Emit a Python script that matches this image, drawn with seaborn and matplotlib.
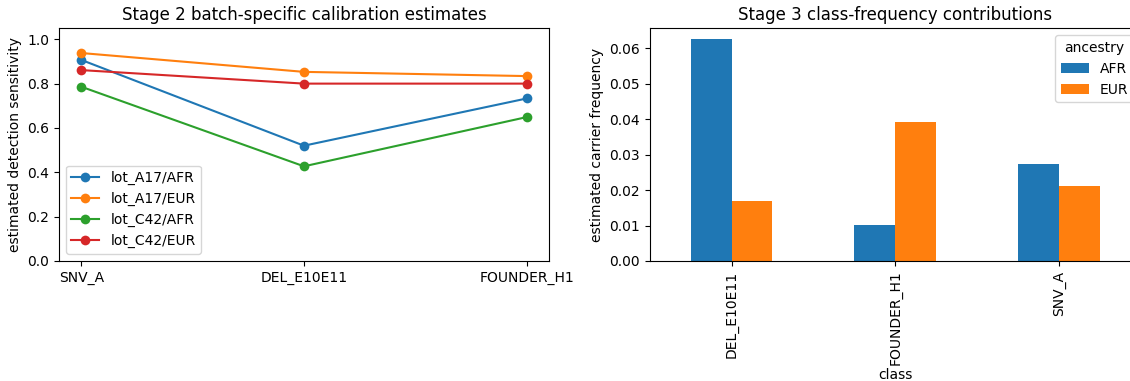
import matplotlib
matplotlib.use("Agg")
import matplotlib.pyplot as plt
import seaborn as sns
import pandas as pd

# ---- data ----
variant_classes = ["SNV_A", "DEL_E10E11", "FOUNDER_H1"]
lot_labels = ["lot_A17/AFR", "lot_A17/EUR", "lot_C42/AFR", "lot_C42/EUR"]
sens_A17_AFR = [0.907, 0.520, 0.733]
sens_A17_EUR = [0.938, 0.853, 0.834]
sens_C42_AFR = [0.786, 0.427, 0.649]
sens_C42_EUR = [0.861, 0.800, 0.800]

bar_classes = ["DEL_E10E11", "FOUNDER_H1", "SNV_A"]
ancestries = ["AFR", "EUR"]
freq_AFR = [0.0626, 0.0102, 0.0275]
freq_EUR = [0.0170, 0.0391, 0.0213]

palette = ["#1f77b4", "#ff7f0e", "#2ca02c", "#d62728"]

sens_series = [sens_A17_AFR, sens_A17_EUR, sens_C42_AFR, sens_C42_EUR]
line_df = pd.DataFrame(
    [(c, lab, v) for lab, vals in zip(lot_labels, sens_series) for c, v in zip(variant_classes, vals)],
    columns=["class", "lot", "sensitivity"],
)
bar_df = pd.DataFrame(
    [(c, a, v) for a, vals in zip(ancestries, [freq_AFR, freq_EUR]) for c, v in zip(bar_classes, vals)],
    columns=["class", "ancestry", "freq"],
)

fig = plt.figure(figsize=(11.3, 3.81), dpi=100)
ax1 = fig.add_axes([0.0522, 0.315, 0.4336, 0.611])
ax2 = fig.add_axes([0.575, 0.315, 0.4344, 0.611])

# ---- left: line plot ----
sns.lineplot(data=line_df, x="class", y="sensitivity", hue="lot", hue_order=lot_labels,
             palette=palette, marker="o", markersize=7, markeredgewidth=0,
             sort=False, ax=ax1, lw=1.5)
ax1.set_ylim(0, 1.05)
ax1.set_xlim(-0.1, 2.1)
ax1.set_xlabel("")
ax1.set_ylabel("estimated detection sensitivity")
ax1.set_title("Stage 2 batch-specific calibration estimates")
leg = ax1.get_legend()
handles = leg.legend_handles
labels = [t.get_text() for t in leg.get_texts()]
for h in handles:
    h.set_marker("o")
    h.set_markersize(7)
    h.set_markeredgewidth(0)
ax1.legend(handles, labels, loc="lower left")

# ---- right: grouped bar ----
sns.barplot(data=bar_df, x="class", y="freq", hue="ancestry", hue_order=ancestries,
            order=bar_classes, palette=palette[:2], width=0.5, saturation=1,
            linewidth=0, ax=ax2)
ax2.set_xlim(-0.5, 2.5)
ax2.set_ylim(0, 0.0657)
ax2.set_xlabel("class", labelpad=2)
ax2.set_ylabel("estimated carrier frequency")
ax2.set_title("Stage 3 class-frequency contributions")
ax2.tick_params(axis="x", rotation=90)
ax2.legend(title="ancestry", loc="upper right")

fig.savefig("out.png", dpi=100)
